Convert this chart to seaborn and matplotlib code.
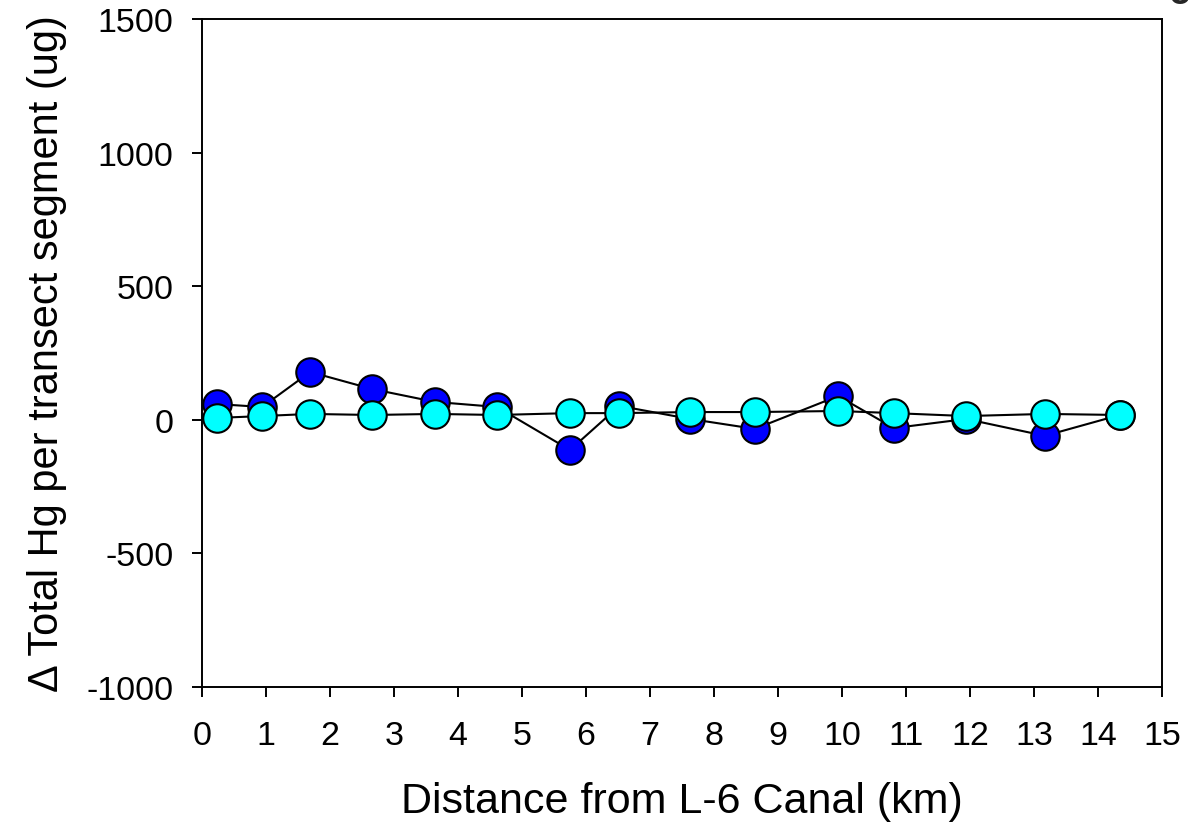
import matplotlib
matplotlib.use("Agg")
import matplotlib.pyplot as plt
import seaborn as sns
import pandas as pd

distance_km = [0.23, 0.94, 1.69, 2.66, 3.64, 4.61, 5.75, 6.52, 7.63, 8.64, 9.94, 10.81, 11.94, 13.17, 14.34]
series_blue = [59, 48, 179, 115, 67, 48, -113, 52, 3, -34, 89, -31, 3, -60, 18]
series_cyan = [7, 14, 22, 18, 22, 18, 25, 25, 29, 29, 33, 25, 14, 22, 18]
x_ticks = list(range(0, 16))
y_ticks = [-1000, -500, 0, 500, 1000, 1500]

sns.set_theme(style="ticks")
plt.rcParams['font.family'] = ['Liberation Sans', 'DejaVu Sans']
plt.rcParams['axes.unicode_minus'] = False

fig = plt.figure(figsize=(11.88, 8.29), dpi=100)
ax = fig.add_axes([202/1188, 141/829, 960/1188, 668/829])

df = pd.DataFrame({"x": distance_km, "blue": series_blue, "cyan": series_cyan})

for col, fc in [("blue", "#0000FF"), ("cyan", "#00FFFF")]:
    sns.lineplot(data=df, x="x", y=col, ax=ax, color="black", linewidth=1.5,
                 marker="o", markersize=20.5, markerfacecolor=fc,
                 markeredgecolor="black", markeredgewidth=1.5, clip_on=False)

ax.set_xlim(0, 15)
ax.set_ylim(-1000, 1500)
ax.set_xticks(x_ticks)
ax.set_yticks(y_ticks)
ax.tick_params(axis="both", direction="out", length=7.5, width=1.4, labelsize=24.5,
               colors="black", labelcolor="black")
ax.tick_params(axis="y", pad=13)
ax.tick_params(axis="x", pad=16)
for s in ax.spines.values():
    s.set_visible(True)
    s.set_color("black")
    s.set_linewidth(1.4)
ax.set_xlabel("Distance from L-6 Canal (km)", fontsize=31, labelpad=22, color="black")
ax.set_ylabel("\u0394 Total Hg per transect segment (ug)", fontsize=30, labelpad=14, color="black")
ax.grid(False)

fig.text(1168/1188, 1 - 12/829, "c", fontsize=28, fontweight="bold", ha="left", va="bottom")

fig.savefig("out.png", dpi=100)
